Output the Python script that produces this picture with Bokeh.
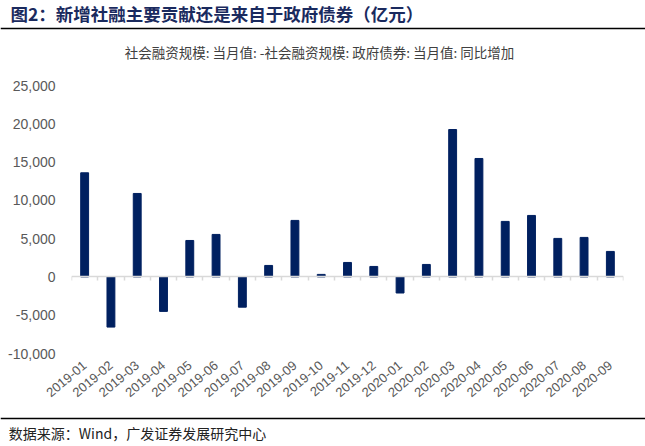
import math
from bokeh.plotting import figure
from bokeh.layouts import column
from bokeh.models import (Range1d, FixedTicker, LinearAxis, NumeralTickFormatter)
from bokeh.core.properties import value
from bokeh.embed import file_html
from bokeh.resources import INLINE

# ---- data ----
categories = ["2019-01", "2019-02", "2019-03", "2019-04", "2019-05", "2019-06", "2019-07",
              "2019-08", "2019-09", "2019-10", "2019-11", "2019-12", "2020-01", "2020-02",
              "2020-03", "2020-04", "2020-05", "2020-06", "2020-07", "2020-08", "2020-09"]
values = [13600, -6550, 10900, -4500, 4760, 5550, -3950,
          1500, 7380, 330, 1890, 1370, -2100, 1630,
          19250, 15470, 7250, 8030, 5030, 5160, 3330]
y_ticks = [-10000, -5000, 0, 5000, 10000, 15000, 20000, 25000]
title_text = "图2：新增社融主要贡献还是来自于政府债券（亿元）"
series_name = "社会融资规模: 当月值: -社会融资规模: 政府债券: 当月值: 同比增加"
source_text = "数据来源：Wind，广发证券发展研究中心"

idx = list(range(len(categories)))
bounds = [i - 0.5 for i in range(len(categories) + 1)]

W = 645
H_HEAD, H_MAIN, H_FOOT = 66, 346, 34
CJK = "Noto Sans CJK SC"


def blank(h):
    f = figure(width=W, height=h, output_backend="svg", toolbar_location=None,
               x_range=Range1d(0, W), y_range=Range1d(h, 0),
               x_axis_location=None, y_axis_location=None,
               min_border=0, min_border_left=0, min_border_right=0,
               min_border_top=0, min_border_bottom=0)
    f.grid.visible = False
    f.outline_line_color = None
    f.background_fill_color = "white"
    f.border_fill_color = "white"
    f.frame_align = False
    return f


# ---- header ----
head = blank(H_HEAD)
head.text(x=[10], y=[13], text=[title_text], text_font=value(CJK), text_font_style="bold",
          text_font_size="17.5px", text_color="#1a2a5e", text_baseline="middle")
head.hspan(y=[27.7], line_color="black", line_width=1.5)
head.text(x=[319], y=[51.5], text=[series_name], text_font=value(CJK),
          text_font_size="13.5px", text_color="#404040", text_align="center",
          text_baseline="middle")

# ---- main chart ----
p = figure(width=W, height=H_MAIN, output_backend="svg", toolbar_location=None,
           x_range=Range1d(-0.5, len(categories) - 0.5),
           y_range=Range1d(y_ticks[0], y_ticks[-1]),
           min_border_left=71, min_border_right=22, min_border_top=19, min_border_bottom=59)
p.background_fill_color = "white"
p.border_fill_color = "white"
p.outline_line_color = None
p.grid.visible = False
p.frame_align = False

p.vbar(x=idx, top=values, width=0.3, color="#002060")

ya = p.yaxis[0]
ya.ticker = FixedTicker(ticks=y_ticks)
ya.formatter = NumeralTickFormatter(format="0,0")
ya.axis_line_color = None
ya.major_tick_line_color = None
ya.minor_tick_line_color = None
ya.major_tick_out = 0
ya.major_tick_in = 0
ya.major_label_standoff = 16
ya.major_label_text_font = "Liberation Sans"
ya.major_label_text_font_size = "14px"
ya.major_label_text_color = "#595959"

xa = p.xaxis[0]
xa.ticker = FixedTicker(ticks=idx)
xa.major_label_overrides = {t: c for t, c in zip(idx, categories)}
xa.axis_line_color = None
xa.major_tick_line_color = None
xa.minor_tick_line_color = None
xa.major_tick_out = 0
xa.major_tick_in = 0
xa.major_label_standoff = 10
xa.major_label_orientation = 0.7
xa.major_label_text_font = "Liberation Sans"
xa.major_label_text_font_size = "13px"
xa.major_label_text_color = "#595959"

za = LinearAxis(fixed_location=0, ticker=FixedTicker(ticks=bounds))
za.major_label_overrides = {b: "" for b in bounds}
za.axis_line_color = "#d9d9d9"
za.axis_line_width = 1.5
za.major_tick_line_color = "#d9d9d9"
za.major_tick_line_width = 1.5
za.major_tick_in = 0
za.major_tick_out = 4
za.minor_tick_line_color = None
za.major_label_standoff = 0
za.major_label_text_font_size = "1px"
p.add_layout(za, "below")

# ---- footer ----
foot = blank(H_FOOT)
foot.hspan(y=[5.7], line_color="black", line_width=1.5)
foot.text(x=[8.3], y=[20.5], text=[source_text], text_font=value(CJK),
          text_font_size="14px", text_color="#222222", text_baseline="middle")

layout = column(head, p, foot, spacing=0)
open("out.html", "w").write(file_html(layout, INLINE))
